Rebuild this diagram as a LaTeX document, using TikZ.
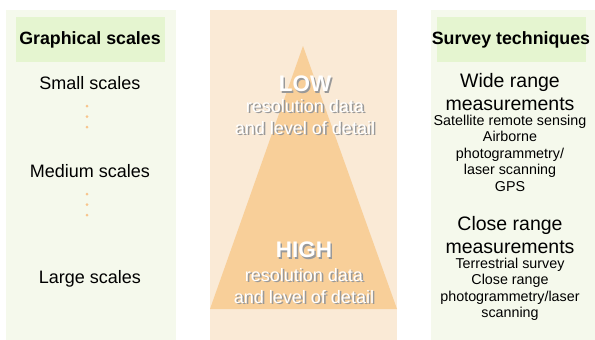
\documentclass[tikz,border=0pt]{standalone}
\usepackage{fontspec}
\setmainfont{Liberation Sans}
\usetikzlibrary{positioning}

\definecolor{scalebg}{HTML}{F5F9EC}
\definecolor{headbg}{HTML}{E5F5D0}
\definecolor{pyrbg}{HTML}{FAEAD6}
\definecolor{pyrfill}{HTML}{F8CF99}
\definecolor{dotcol}{HTML}{F8C58C}

% white text with a soft drop shadow
\newcommand{\shtext}[1]{\rlap{\hspace{1.6pt}\raisebox{-1.6pt}{\color{black!40}#1}}#1}

\tikzset{
  headlabel/.style={font=\bfseries\fontsize{17.8}{20}\selectfont},
  scalelabel/.style={font=\fontsize{18}{22}\selectfont},
  biglabel/.style={font=\bfseries\fontsize{22.5}{26}\selectfont, text=white, inner sep=0pt},
  pyrlabel/.style={font=\fontsize{18}{22}\selectfont, text=white, align=center, inner sep=0pt},
  rangelabel/.style={font=\fontsize{19.5}{23}\selectfont, align=center, inner sep=0pt},
  techlabel/.style={font=\fontsize{14.3}{16.5}\selectfont, align=center, inner sep=0pt},
  scaledot/.style={circle, fill=dotcol, inner sep=0pt, minimum size=3pt}
}

\begin{document}
\begin{tikzpicture}[x=1pt, y=-1pt]
        \useasboundingbox (0,0) rectangle (595,340);

%% panels
        \fill[scalebg] (6,10) rectangle (176,340);
        \fill[headbg] (16,17) rectangle (165,62);
        \fill[pyrbg] (210,10) rectangle (397,340);
        \fill[pyrfill] (303,46) -- (397,309) -- (210,309) -- cycle;
        \fill[scalebg] (431,10) rectangle (595,340);
        \fill[headbg] (437,17) rectangle (586,62);

%% graphical scales
        \node [headlabel] (gscales) at (90,40) {Graphical scales};
        \node [scalelabel] (small) at (90,83) {Small scales};
        \node [scalelabel] (medium) at (90,171) {Medium scales};
        \node [scalelabel] (large) at (90,279) {Large scales};
        \foreach \y [count=\i] in {106,116.5,127} {
            \node [scaledot] (da\i) at (87,\y) {};
        }
        \foreach \y [count=\i] in {194,204.5,215} {
            \node [scaledot] (db\i) at (87,\y) {};
        }

%% pyramid
        \node [biglabel] (low) at (305,85) {\shtext{LOW}};
        \node [pyrlabel, below = 5pt of low] (lowtext)
            {\shtext{resolution data}\\\shtext{and level of detail}};
        \node [biglabel] (high) at (304,251) {\shtext{HIGH}};
        \node [pyrlabel, below = 8pt of high] (hightext)
            {\shtext{resolution data}\\\shtext{and level of detail}};

%% survey techniques
        \node [headlabel] (survey) at (511,40) {Survey techniques};
        \node [rangelabel] (wide) at (510,92) {Wide range\\measurements};
        \node [techlabel, below = 4pt of wide] (widetech)
            {Satellite remote sensing\\Airborne\\photogrammetry/\\laser scanning\\GPS};
        \node [rangelabel] (close) at (510,235) {Close range\\measurements};
        \node [techlabel, below = 4pt of close] (closetech)
            {Terrestrial survey\\Close range\\photogrammetry/laser\\scanning};
\end{tikzpicture}
\end{document}
